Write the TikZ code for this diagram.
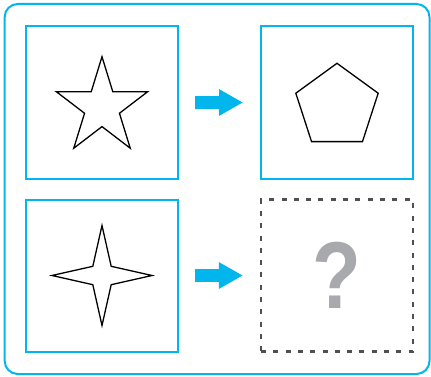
\documentclass[tikz,border=0pt]{standalone}
\usepackage{fontspec}
\setmainfont{Liberation Sans}
\usetikzlibrary{positioning, arrows.meta}
\definecolor{framecyan}{RGB}{0,182,237}
\definecolor{dashgray}{RGB}{80,80,82}
\definecolor{markgray}{RGB}{167,169,172}

\begin{document}
\begin{tikzpicture}[x=1pt, y=-1pt, node distance=173pt and 235pt, on grid,
   panel/.style={draw=framecyan, line width=2pt, minimum size=152pt, inner sep=0pt},
   blank/.style={draw=dashgray, line width=2.2pt, dash pattern=on 5pt off 7.3pt, minimum size=152pt, inner sep=0pt},
   figure/.style={draw=black, line width=1.3pt, line join=miter},
   step arrow/.style={-{Triangle[length=24pt, width=25pt]}, framecyan, line width=12.5pt, shorten <=16pt, shorten >=17pt}]
   \useasboundingbox (0,0) rectangle (431,377);
   \draw[framecyan, line width=2pt, rounded corners=13pt] (4.7,4) rectangle (429.5,374);

   \node[panel] (q_star) at (102,102.5) {};
   \node[panel] (q_pent) [right=of q_star] {};
   \node[panel] (q_spark) [below=of q_star] {};
   \node[blank] (q_ans) [right=of q_spark] {};
   \node[text=markgray, font=\fontsize{95}{95}\selectfont\bfseries, inner sep=0pt, xscale=0.84, transform shape] (q_mark) at (q_ans) {?};

   \path[step arrow]
   (q_star) edge (q_pent)
   (q_spark) edge (q_ans)
    ;

   % shapes inside the panels
   \draw[figure, shift={(q_star.center)}, yshift=-4.8pt, xscale=0.95] (-90:50.6)
     \foreach \i in {1,...,9} { -- ({-90+36*\i}:{isodd(\i) ? 19.3 : 50.6}) } -- cycle;
   \draw[figure, shift={(q_pent.center)}, yshift=-4.1pt] (-90:43.3)
     \foreach \a in {-18,54,126,198} { -- (\a:43.3) } -- cycle;
   \draw[figure, shift={(q_spark.center)}] (-90:50)
     \foreach \i in {1,...,7} { -- ({-90+45*\i}:{isodd(\i) ? 13 : 50}) } -- cycle;
\end{tikzpicture}
\end{document}
